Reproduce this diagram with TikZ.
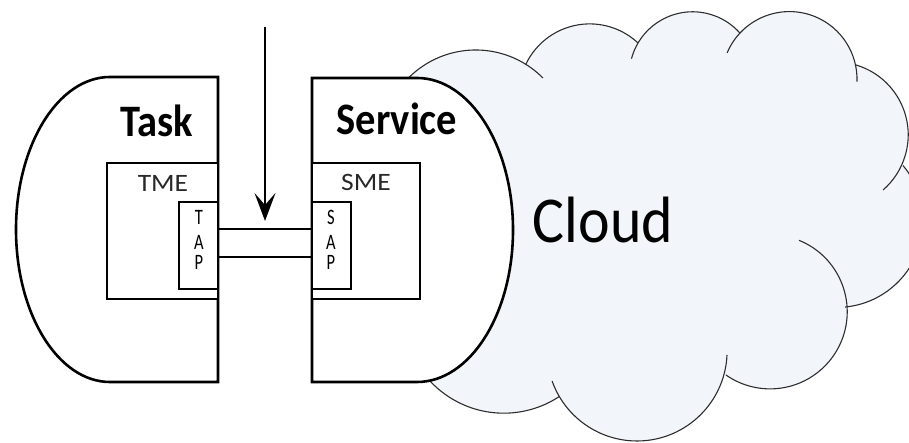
\documentclass[tikz,border=0pt]{standalone}
\usepackage{fontspec}
\setmainfont{Carlito}
\newfontfamily\cloudfont[FakeStretch=0.915]{Carlito}
\newfontfamily\apfont[FakeStretch=0.75]{Carlito}
\newfontfamily\mefont[FakeStretch=1.1]{Carlito}
\newfontfamily\titlefont[FakeStretch=0.9]{Carlito}
\usetikzlibrary{arrows.meta}
\definecolor{cloudfill}{RGB}{242,246,250}
\definecolor{cloudline}{RGB}{45,45,45}
\definecolor{metext}{RGB}{40,40,40}
\begin{document}
\begin{tikzpicture}[x=1pt,y=1pt,
  shapeline/.style={line width=2.6pt, line join=miter},
  box/.style={draw, line width=2.6pt, fill=white, inner sep=0, outer sep=0},
  bump/.style={draw=cloudline, line width=1.1pt},
  title/.style={font=\titlefont\fontsize{45}{45}\selectfont\bfseries, anchor=base, inner sep=0},
  me/.style={font=\mefont\fontsize{25}{25}\selectfont, anchor=base, inner sep=0, text=metext},
  ltr/.style={font=\apfont\fontsize{22}{22}\selectfont, anchor=base, inner sep=0, text=black}]
\useasboundingbox (0,0) rectangle (909,443);
\clip (0,0) rectangle (909,443);
% cloud fill: core polygon plus every bump segment
\fill[cloudfill] (403.1,359.1) -- (527,379) -- (638,400) -- (740,410) -- (856,378) -- (903,277)
  -- (845,136) -- (725,68) -- (559,46) -- (412.5,87.9) -- (395,220) -- cycle;
\fill[cloudfill] (475.7,298.2) ++(140:94.8) arc[start angle=140, end angle=44.8, radius=94.8] -- cycle;
\fill[cloudfill] (589.7,348.4) ++(155:70.7) arc[start angle=155, end angle=46.9, radius=70.7] -- cycle;
\fill[cloudfill] (692.6,367.9) ++(165:63.3) arc[start angle=165, end angle=41.6, radius=63.3] -- cycle;
\fill[cloudfill] (789.4,363.8) ++(157:67.6) arc[start angle=157, end angle=-2, radius=67.6] -- cycle;
\fill[cloudfill] (835.3,308.1) ++(73.5:72.9) arc[start angle=73.5, end angle=-49.1, radius=72.9] -- cycle;
\fill[cloudfill] (836.8,221.95) ++(40:86.4) arc[start angle=40, end angle=-84.5, radius=86.4] -- cycle;
\fill[cloudfill] (770.1,131.2) ++(68:77.1) arc[start angle=68, end angle=-125, radius=77.1] -- cycle;
\fill[cloudfill] (637,92.1) ++(-2.6:90.1) arc[start angle=-2.6, end angle=-160.5, radius=90.1] -- cycle;
\fill[cloudfill] (503.8,130.5) ++(-56.6:100.7) arc[start angle=-56.6, end angle=-155, radius=100.7] -- cycle;
% cloud outline bumps
\draw[bump] (475.7,298.2) ++(140:94.8) arc[start angle=140, end angle=44.8, radius=94.8];
\draw[bump] (589.7,348.4) ++(155:70.7) arc[start angle=155, end angle=46.9, radius=70.7];
\draw[bump] (692.6,367.9) ++(165:63.3) arc[start angle=165, end angle=41.6, radius=63.3];
\draw[bump] (789.4,363.8) ++(157:67.6) arc[start angle=157, end angle=-2, radius=67.6];
\draw[bump] (835.3,308.1) ++(73.5:72.9) arc[start angle=73.5, end angle=-49.1, radius=72.9];
\draw[bump] (836.8,221.95) ++(40:86.4) arc[start angle=40, end angle=-84.5, radius=86.4];
\draw[bump] (770.1,131.2) ++(68:77.1) arc[start angle=68, end angle=-125, radius=77.1];
\draw[bump] (637,92.1) ++(-2.6:90.1) arc[start angle=-2.6, end angle=-160.5, radius=90.1];
\draw[bump] (503.8,130.5) ++(-56.6:100.7) arc[start angle=-56.6, end angle=-155, radius=100.7];
% Task shape
\draw[shapeline, fill=white] (218,366) -- (110,366) arc[start angle=90, end angle=270, x radius=94, y radius=152.5] -- (218,61) -- cycle;
% Service shape
\draw[shapeline, fill=white] (312,365) -- (417,365) arc[start angle=90, end angle=-90, x radius=96, y radius=152] -- (312,61) -- cycle;
% boxes
\node[box, minimum width=111pt, minimum height=136pt] (tme) at (162.5,212) {};
\node[box, minimum width=39pt, minimum height=87pt] (tap) at (198.5,197.5) {};
\node[box, minimum width=108pt, minimum height=136pt] (sme) at (366,212) {};
\node[box, minimum width=39pt, minimum height=87pt] (sap) at (331.5,197.5) {};
% channel
\draw[shapeline] ([yshift=16.5pt]tap.east) -- ([yshift=16.5pt]sap.west);
\draw[shapeline] ([yshift=-11.5pt]tap.east) -- ([yshift=-11.5pt]sap.west);
% arrow
\coordinate (arrtop) at (265,416);
\coordinate (arrtip) at (265,222);
\draw[line width=2.6pt, -{Stealth[length=28pt,width=21pt,inset=12pt]}] (arrtop) -- (arrtip);
% texts
\node[title] (task) at (157,306) {Task};
\node[title] (service) at (397,308) {Service};
\node[me] (tmelabel) at (163,251) {TME};
\node[me] (smelabel) at (366,252) {SME};
\node[ltr] (t1) at (199,218) {T};
\node[ltr] (t2) at (199,193) {A};
\node[ltr] (t3) at (199,173) {P};
\node[ltr] (s1) at (331,218) {S};
\node[ltr] (s2) at (331,193) {A};
\node[ltr] (s3) at (331,173) {P};
\node[font=\cloudfont\fontsize{65.5}{65.5}\selectfont, anchor=base, inner sep=0] (cloudlabel) at (603,200) {Cloud};
\end{tikzpicture}
\end{document}
